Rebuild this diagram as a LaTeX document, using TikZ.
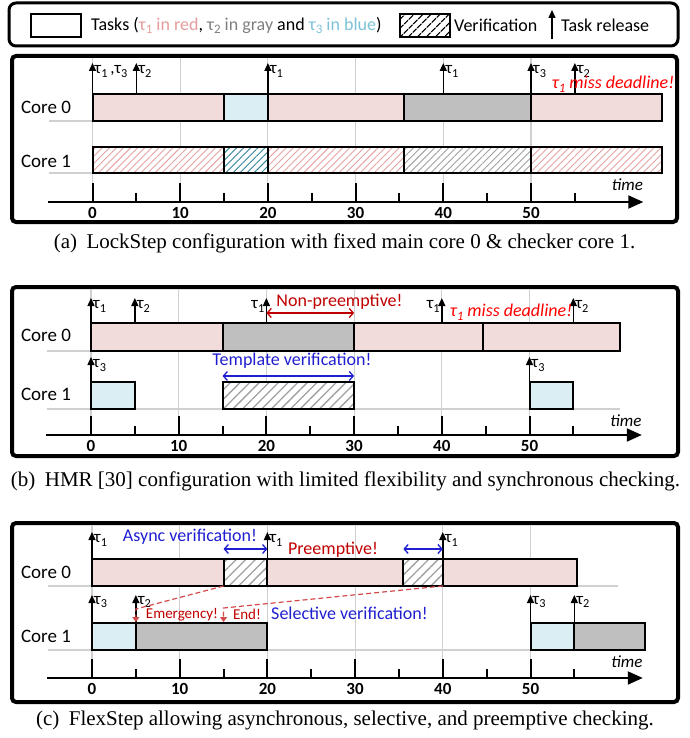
\documentclass[tikz,border=0pt]{standalone}
\usepackage{fontspec}
\setmainfont{Carlito}
\newfontfamily\capfont{Liberation Serif}
\usetikzlibrary{arrows.meta,patterns.meta}
\definecolor{tred}{HTML}{F2DCDB}
\definecolor{tblue}{HTML}{DAEEF3}
\definecolor{tgray}{HTML}{BFBFBF}
\definecolor{hred}{HTML}{E6A3A3}
\definecolor{hblue}{HTML}{31859C}
\definecolor{hgray}{HTML}{A0A0A0}
\definecolor{gridc}{HTML}{D0D0D0}
\definecolor{darkred}{HTML}{C00000}
\definecolor{vblue}{HTML}{1F1FD0}
\definecolor{dashred}{HTML}{D24A4A}
\definecolor{legred}{HTML}{E59C9C}
\definecolor{leggray}{HTML}{7F7F7F}
\definecolor{legblue}{HTML}{7CC3D8}
\newcommand\tk[1]{τ\raisebox{-0.45ex}{\scalebox{0.72}{#1}}}
\tikzset{
  panelframe/.style={draw=black, line width=4pt, rounded corners=4pt},
  legendbox/.style={draw=black, line width=3pt, rounded corners=7pt},
  gridline/.style={draw=gridc, line width=1.1pt},
  coreline/.style={draw=gridc, line width=1.1pt},
  taskbar/.style={draw=black, line width=2pt},
  redbar/.style={taskbar, fill=tred},
  bluebar/.style={taskbar, fill=tblue},
  graybar/.style={taskbar, fill=tgray},
  hatchred/.style={taskbar, preaction={fill=white}, pattern={Lines[angle=45,distance=5pt,line width=0.9pt]}, pattern color=hred},
  hatchblue/.style={taskbar, preaction={fill=white}, pattern={Lines[angle=45,distance=5pt,line width=0.9pt]}, pattern color=hblue},
  hatchgray/.style={taskbar, preaction={fill=white}, pattern={Lines[angle=45,distance=5pt,line width=0.9pt]}, pattern color=hgray},
  hatchver/.style={taskbar, preaction={fill=white}, pattern={Lines[angle=45,distance=6.8pt,line width=1.3pt]}, pattern color=hgray},
  release/.style={-{Triangle[length=8pt,width=7pt]}, line width=1.4pt},
  taur/.style={anchor=west, inner sep=0pt, xshift=2pt, font=\fontsize{17}{17}\selectfont},
  taul/.style={anchor=east, inner sep=0pt, xshift=-2pt, font=\fontsize{17}{17}\selectfont},
  corelab/.style={font=\fontsize{19}{19}\selectfont, inner sep=0pt},
  ticklab/.style={font=\fontsize{17}{17}\selectfont\bfseries, inner sep=0pt},
  timelab/.style={font=\fontsize{17}{17}\selectfont\itshape, inner sep=0pt},
  axisline/.style={line width=2pt, -{Triangle[length=15pt,width=13pt]}},
  tickmark/.style={line width=2pt},
  miss/.style={text=red, font=\fontsize{18}{18}\selectfont\itshape, inner sep=0pt},
  note/.style={font=\fontsize{18}{18}\selectfont, inner sep=0pt},
  smallnote/.style={font=\fontsize{15}{15}\selectfont, inner sep=0pt, text=darkred},
  dbl/.style={{Straight Barb[length=4pt,width=9pt]}-{Straight Barb[length=4pt,width=9pt]}, line width=1.3pt},
  emerg/.style={draw=dashred, dashed, dash pattern=on 5pt off 3pt, line width=1.2pt, -{Triangle[length=5pt,width=7pt]}},
  captext/.style={font=\capfont\fontsize{21}{21}\selectfont, inner sep=0pt},
  legtext/.style={anchor=west, inner sep=0pt, font=\fontsize{18}{18}\selectfont},
}
\newcommand\axisticks[3]{%
  \draw[axisline] (-5.1,#1) -- (62.8,#1);
  \foreach \t in {0,10,...,50}{\draw[tickmark] (\t,#1-19) -- (\t,#1);
    \node[ticklab] (#3l\t) at (\t,#1+11) {\t};}
  \foreach \t in {5,15,...,55}{\draw[tickmark] (\t,#1-9) -- (\t,#1);}
  \node[timelab] (#3time) at (61,#2) {time};
}
\newcommand\gridlines[2]{%
  \foreach \t in {0,10,...,50}{\draw[gridline] (\t,#1) -- (\t,#2);}
}
\begin{document}
\begin{tikzpicture}[x=1pt,y=-1pt]
\useasboundingbox (0,0) rectangle (689,738);
% ---------------- legend ----------------
\draw[legendbox] (9,3) rectangle (678,46);
\draw[line width=1.6pt] (31,14) rectangle (81,37);
\node[legtext] (legtasks) at (91,25.5) {Tasks (\textcolor{legred}{\tk{1} in red}, \textcolor{leggray}{\tk{2} in gray} and \textcolor{legblue}{\tk{3} in blue})};
\draw[line width=1.6pt, preaction={fill=white}, pattern={Lines[angle=45,distance=6.5pt,line width=1.4pt]}, pattern color=black] (400,14) rectangle (450,37);
\node[legtext] (legver) at (454,25.5) {Verification};
\draw[release] (552,39) -- (552,10);
\node[legtext] (legrel) at (561,25.5) {Task release};
% ---------------- panel (a) ----------------
\draw[panelframe] (12,56) rectangle (677,222);
\node[corelab] (a0) at (46,107) {Core 0};
\node[corelab] (a1) at (46,161) {Core 1};
\begin{scope}[xshift=92.5pt, x=8.77pt]
  \gridlines{58}{183}
  \draw[coreline] (-5,121) -- (65,121);
  \draw[coreline] (-5,173) -- (65,173);
  \draw[redbar] (0,94) rectangle (15,121);
  \draw[bluebar] (15,94) rectangle (20,121);
  \draw[redbar] (20,94) rectangle (35.5,121);
  \draw[graybar] (35.5,94) rectangle (50,121);
  \draw[redbar] (50,94) rectangle (64.9,121);
  \draw[hatchred] (0,147) rectangle (15,173);
  \draw[hatchblue] (15,147) rectangle (20,173);
  \draw[hatchred] (20,147) rectangle (35.5,173);
  \draw[hatchgray] (35.5,147) rectangle (50,173);
  \draw[hatchred] (50,147) rectangle (64.9,173);
  \foreach \t in {0,5,20,40,50,55}{\draw[release] (\t,94) -- (\t,63);}
  \node[taur] (ar0) at (0,71.5) {\tk{1}\,,\tk{3}};
  \node[taur] (ar5) at (5,71.5) {\tk{2}};
  \node[taur] (ar20) at (20,71.5) {\tk{1}};
  \node[taur] (ar40) at (40,71.5) {\tk{1}};
  \node[taur] (ar50) at (50,71.5) {\tk{3}};
  \node[taur] (ar55) at (55,71.5) {\tk{2}};
  \axisticks{202}{185}{a}
\end{scope}
\node[miss] (amiss) at (613,84.5) {\tk{1} miss deadline!};
\node[captext] (capa) at (344.5,243) {(a)\hspace{0.45em}LockStep configuration with fixed main core 0 \& checker core 1.};
% ---------------- panel (b) ----------------
\draw[panelframe] (12,287) rectangle (678,456);
\node[corelab] (b0) at (46,335) {Core 0};
\node[corelab] (b1) at (46,394) {Core 1};
\begin{scope}[xshift=91pt, x=8.77pt]
  \gridlines{289}{417}
  \draw[coreline] (-5,351) -- (60.3,351);
  \draw[coreline] (-5,409) -- (60.3,409);
  \draw[redbar] (0,323) rectangle (15,351);
  \draw[graybar] (15,323) rectangle (30,351);
  \draw[redbar] (30,323) rectangle (44.7,351);
  \draw[redbar] (44.7,323) rectangle (60.3,351);
  \draw[bluebar] (0,382) rectangle (5,409);
  \draw[hatchver] (15,382) rectangle (30,409);
  \draw[bluebar] (50,382) rectangle (55,409);
  \foreach \t in {0,5,20,40,55}{\draw[release] (\t,323) -- (\t,298);}
  \foreach \t in {0,50}{\draw[release] (\t,382) -- (\t,357);}
  \node[taur] (br0) at (0,306.5) {\tk{1}};
  \node[taur] (br5) at (5,306.5) {\tk{2}};
  \node[taul] (br20) at (20,306.5) {\tk{1}};
  \node[taul] (br40) at (40,306.5) {\tk{1}};
  \node[taur] (br55) at (55,306.5) {\tk{2}};
  \node[taur] (bq0) at (0,365.5) {\tk{3}};
  \node[taur] (bq50) at (50,365.5) {\tk{3}};
  \coordinate (bnpL) at (20,313);
  \coordinate (bnpR) at (30,313);
  \draw[dbl, draw=darkred] (bnpL) -- (bnpR);
  \coordinate (btvL) at (15,376);
  \coordinate (btvR) at (30,376);
  \draw[dbl, draw=vblue] (btvL) -- (btvR);
  \axisticks{435}{421}{b}
\end{scope}
\node[note, text=darkred] (bnp) at (339.5,302) {Non-preemptive!};
\node[miss] (bmiss) at (511,312) {\tk{1} miss deadline!};
\node[note, text=vblue] (btv) at (292,361) {Template verification!};
\node[captext] (capb) at (345.5,481.5) {(b)\hspace{0.45em}HMR [30] configuration with limited flexibility and synchronous checking.};
% ---------------- panel (c) ----------------
\draw[panelframe] (12,523) rectangle (678,702);
\node[corelab] (c0) at (46,572) {Core 0};
\node[corelab] (c1) at (46,636) {Core 1};
\begin{scope}[xshift=92pt, x=8.77pt]
  \gridlines{525}{660}
  \draw[coreline] (-5,586) -- (60,586);
  \draw[coreline] (-5,650) -- (63,650);
  \draw[redbar] (0,559) rectangle (15,586);
  \draw[hatchver] (15,559) rectangle (20,586);
  \draw[redbar] (20,559) rectangle (35.5,586);
  \draw[hatchver] (35.5,559) rectangle (40,586);
  \draw[redbar] (40,559) rectangle (55.3,586);
  \draw[bluebar] (0,623) rectangle (5,650);
  \draw[graybar] (5,623) rectangle (20,650);
  \draw[bluebar] (50,623) rectangle (55,650);
  \draw[graybar] (55,623) rectangle (63,650);
  \foreach \t in {0,20,40}{\draw[release] (\t,559) -- (\t,532);}
  \foreach \t in {0,5,50,55}{\draw[release] (\t,623) -- (\t,595);}
  \node[taur] (cr0) at (0,540.5) {\tk{1}};
  \node[taur] (cr20) at (20,540.5) {\tk{1}};
  \node[taur] (cr40) at (40,540.5) {\tk{1}};
  \node[taur] (cq0) at (0,602) {\tk{3}};
  \node[taur] (cq5) at (5,602) {\tk{2}};
  \node[taur] (cq50) at (50,602) {\tk{3}};
  \node[taur] (cq55) at (55,602) {\tk{2}};
  \coordinate (cav1L) at (15,549);
  \coordinate (cav1R) at (20,549);
  \coordinate (cav2L) at (35.5,549);
  \coordinate (cav2R) at (40,549);
  \draw[dbl, draw=vblue] (cav1L) -- (cav1R);
  \draw[dbl, draw=vblue] (cav2L) -- (cav2R);
  \coordinate (ce1s) at (15,586);
  \coordinate (ce1m) at (5,609);
  \coordinate (ce1e) at (5,622);
  \coordinate (ce2s) at (40,586);
  \coordinate (ce2m) at (15,608);
  \coordinate (ce2e) at (15,622);
  \draw[emerg] (ce1s) -- (ce1m) -- (ce1e);
  \draw[emerg] (ce2s) -- (ce2m) -- (ce2e);
  \axisticks{678}{662}{c}
\end{scope}
\node[note, text=vblue] (cav) at (190,537) {Async verification!};
\node[note, text=darkred] (cpre) at (333,550) {Preemptive!};
\node[smallnote] (cem) at (182,614.5) {Emergency!};
\node[smallnote] (cend) at (247,614.5) {End!};
\node[note, text=vblue] (csel) at (349.5,613) {Selective verification!};
\node[captext] (capc) at (345,720) {(c)\hspace{0.45em}FlexStep allowing asynchronous, selective, and preemptive checking.};
\end{tikzpicture}
\end{document}
